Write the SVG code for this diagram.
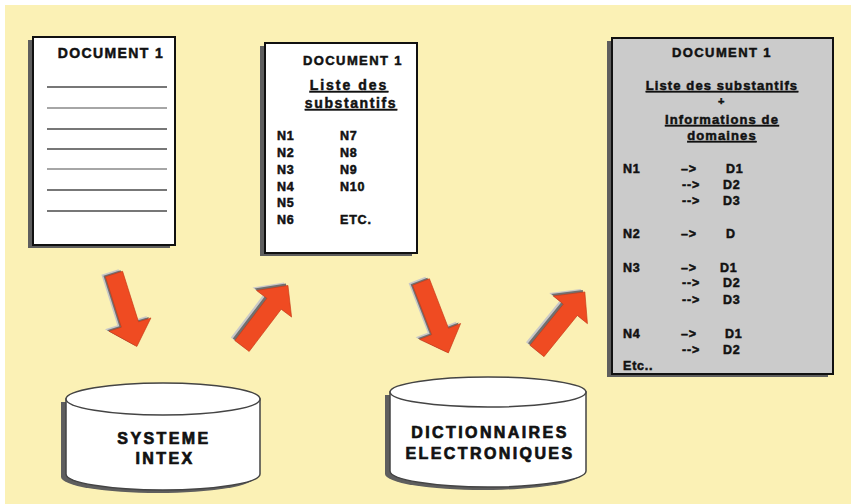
<svg xmlns="http://www.w3.org/2000/svg" width="851" height="504" viewBox="0 0 851 504">
<defs>
<style>
text{font-family:"Liberation Sans",Arial,sans-serif;font-weight:bold;fill:#111;stroke:#111;stroke-width:0.5px;}
.doc{fill:#fff;stroke:#111;stroke-width:2;}
.shadow{fill:#5e5e5e;}
.line{stroke:#4a4a4a;stroke-width:1.5;}
.cyl{fill:#fff;stroke:#444;stroke-width:1.5;}
.arrow{fill:#ef4b22;stroke:#c63a16;stroke-width:0.6;}
.ash1{fill:#c8c8c8;}
.ash2{fill:#707070;}
.h{font-size:13px;letter-spacing:1.4px;}
.u{text-decoration:underline;}
.r{font-size:12.5px;letter-spacing:0.8px;}
.c{font-size:16px;letter-spacing:2.4px;stroke-width:0.7px;}
</style>
<path id="arr" d="M0,-9 L53,-9 L53,-22 L76,0 L53,22 L53,9 L0,9 Z"/>
</defs>
<rect x="0" y="0" width="851" height="504" fill="#fff"/>
<rect x="5" y="5" width="846" height="499" fill="#fbf1b5"/>

<g id="doc1">
<rect class="shadow" x="28" y="40" width="142" height="208"/>
<rect class="doc" x="33" y="37" width="142" height="208"/>
<text class="h" x="111" y="58" text-anchor="middle" style="font-size:14px">DOCUMENT 1</text>
<line class="line" x1="47" y1="87" x2="167" y2="87"/>
<line class="line" x1="47" y1="108" x2="167" y2="108" style="stroke:#888"/>
<line class="line" x1="47" y1="129" x2="167" y2="129"/>
<line class="line" x1="47" y1="149" x2="167" y2="149"/>
<line class="line" x1="47" y1="169" x2="167" y2="169" style="stroke:#888"/>
<line class="line" x1="47" y1="190" x2="167" y2="190"/>
<line class="line" x1="47" y1="211" x2="167" y2="211"/>
</g>

<g id="doc2">
<rect class="shadow" x="260" y="46" width="152" height="210"/>
<rect class="doc" x="265" y="43" width="152" height="210"/>
<text class="h" x="353" y="65" text-anchor="middle">DOCUMENT 1</text>
<text class="h u" x="349" y="90" text-anchor="middle" style="font-size:14px;letter-spacing:2px">Liste des</text>
<text class="h u" x="351" y="108" text-anchor="middle" style="font-size:14px;letter-spacing:1.6px">substantifs</text>
<text class="r" x="277" y="140">N1</text><text class="r" x="340" y="140">N7</text>
<text class="r" x="277" y="157">N2</text><text class="r" x="340" y="157">N8</text>
<text class="r" x="277" y="174">N3</text><text class="r" x="340" y="174">N9</text>
<text class="r" x="277" y="191">N4</text><text class="r" x="340" y="191">N10</text>
<text class="r" x="277" y="207">N5</text>
<text class="r" x="277" y="224">N6</text><text class="r" x="340" y="224">ETC.</text>
</g>

<g id="doc3">
<rect class="shadow" x="607" y="41" width="221" height="336"/>
<rect class="doc" x="612" y="38" width="221" height="336" style="fill:#cbcbcb"/>
<text class="h" x="722" y="57" text-anchor="middle">DOCUMENT 1</text>
<text class="h u" x="722" y="90" text-anchor="middle" style="letter-spacing:1.1px">Liste des substantifs</text>
<text class="h" x="722" y="105" text-anchor="middle" style="font-size:11px">+</text>
<text class="h u" x="722" y="124" text-anchor="middle" style="letter-spacing:1.1px">Informations de</text>
<text class="h u" x="722" y="140" text-anchor="middle" style="letter-spacing:1.1px">domaines</text>
<text class="r" x="623" y="173">N1</text><text class="r" x="681" y="173">–&gt;</text><text class="r" x="726" y="173">D1</text>
<text class="r" x="682" y="189">--&gt;</text><text class="r" x="723" y="189">D2</text>
<text class="r" x="682" y="205">--&gt;</text><text class="r" x="723" y="205">D3</text>
<text class="r" x="623" y="238">N2</text><text class="r" x="681" y="238">–&gt;</text><text class="r" x="726" y="238">D</text>
<text class="r" x="623" y="272">N3</text><text class="r" x="681" y="272">–&gt;</text><text class="r" x="720" y="272">D1</text>
<text class="r" x="682" y="287">--&gt;</text><text class="r" x="723" y="287">D2</text>
<text class="r" x="682" y="304">--&gt;</text><text class="r" x="723" y="304">D3</text>
<text class="r" x="623" y="338">N4</text><text class="r" x="681" y="338">–&gt;</text><text class="r" x="725" y="338">D1</text>
<text class="r" x="682" y="354">--&gt;</text><text class="r" x="723" y="354">D2</text>
<text class="r" x="623" y="370">Etc..</text>
</g>

<g id="cyl1">
<path class="shadow" d="M61,402 L61,477 A97,16 0 0 0 255,477 L255,402 Z"/>
<path class="cyl" d="M66,399 L66,474 A97,16 0 0 0 260,474 L260,399 Z"/>
<ellipse class="cyl" cx="163" cy="399" rx="97" ry="16"/>
<text class="c" x="164" y="444" text-anchor="middle">SYSTEME</text>
<text class="c" x="165" y="464" text-anchor="middle">INTEX</text>
</g>

<g id="cyl2">
<path class="shadow" d="M385,395 L385,474 A98,16 0 0 0 581,474 L581,395 Z"/>
<path class="cyl" d="M390,392 L390,471 A98,16 0 0 0 586,471 L586,392 Z"/>
<ellipse class="cyl" cx="488" cy="392" rx="98" ry="15"/>
<text class="c" x="490" y="438" text-anchor="middle">DICTIONNAIRES</text>
<text class="c" x="490" y="459" text-anchor="middle">ELECTRONIQUES</text>
</g>

<g id="connectors">
<g transform="translate(110,272)"><use href="#arr" class="ash1" transform="rotate(72.5)"/></g>
<g transform="translate(112,273)"><use href="#arr" class="ash2" transform="rotate(72.5)"/></g>
<g transform="translate(114,274)"><use href="#arr" class="arrow" transform="rotate(72.5)"/></g>

<g transform="translate(238,343)"><use href="#arr" class="ash1" transform="rotate(-52.8)"/></g>
<g transform="translate(240,344)"><use href="#arr" class="ash2" transform="rotate(-52.8)"/></g>
<g transform="translate(242,346)"><use href="#arr" class="arrow" transform="rotate(-52.8)"/></g>

<g transform="translate(417,280)"><use href="#arr" class="ash1" transform="rotate(68.9)"/></g>
<g transform="translate(419,281)"><use href="#arr" class="ash2" transform="rotate(68.9)"/></g>
<g transform="translate(421,282)"><use href="#arr" class="arrow" transform="rotate(68.9)"/></g>

<g transform="translate(533,348)"><use href="#arr" class="ash1" transform="rotate(-51)"/></g>
<g transform="translate(535,349)"><use href="#arr" class="ash2" transform="rotate(-51)"/></g>
<g transform="translate(537,351)"><use href="#arr" class="arrow" transform="rotate(-51)"/></g>
</g>
</svg>
